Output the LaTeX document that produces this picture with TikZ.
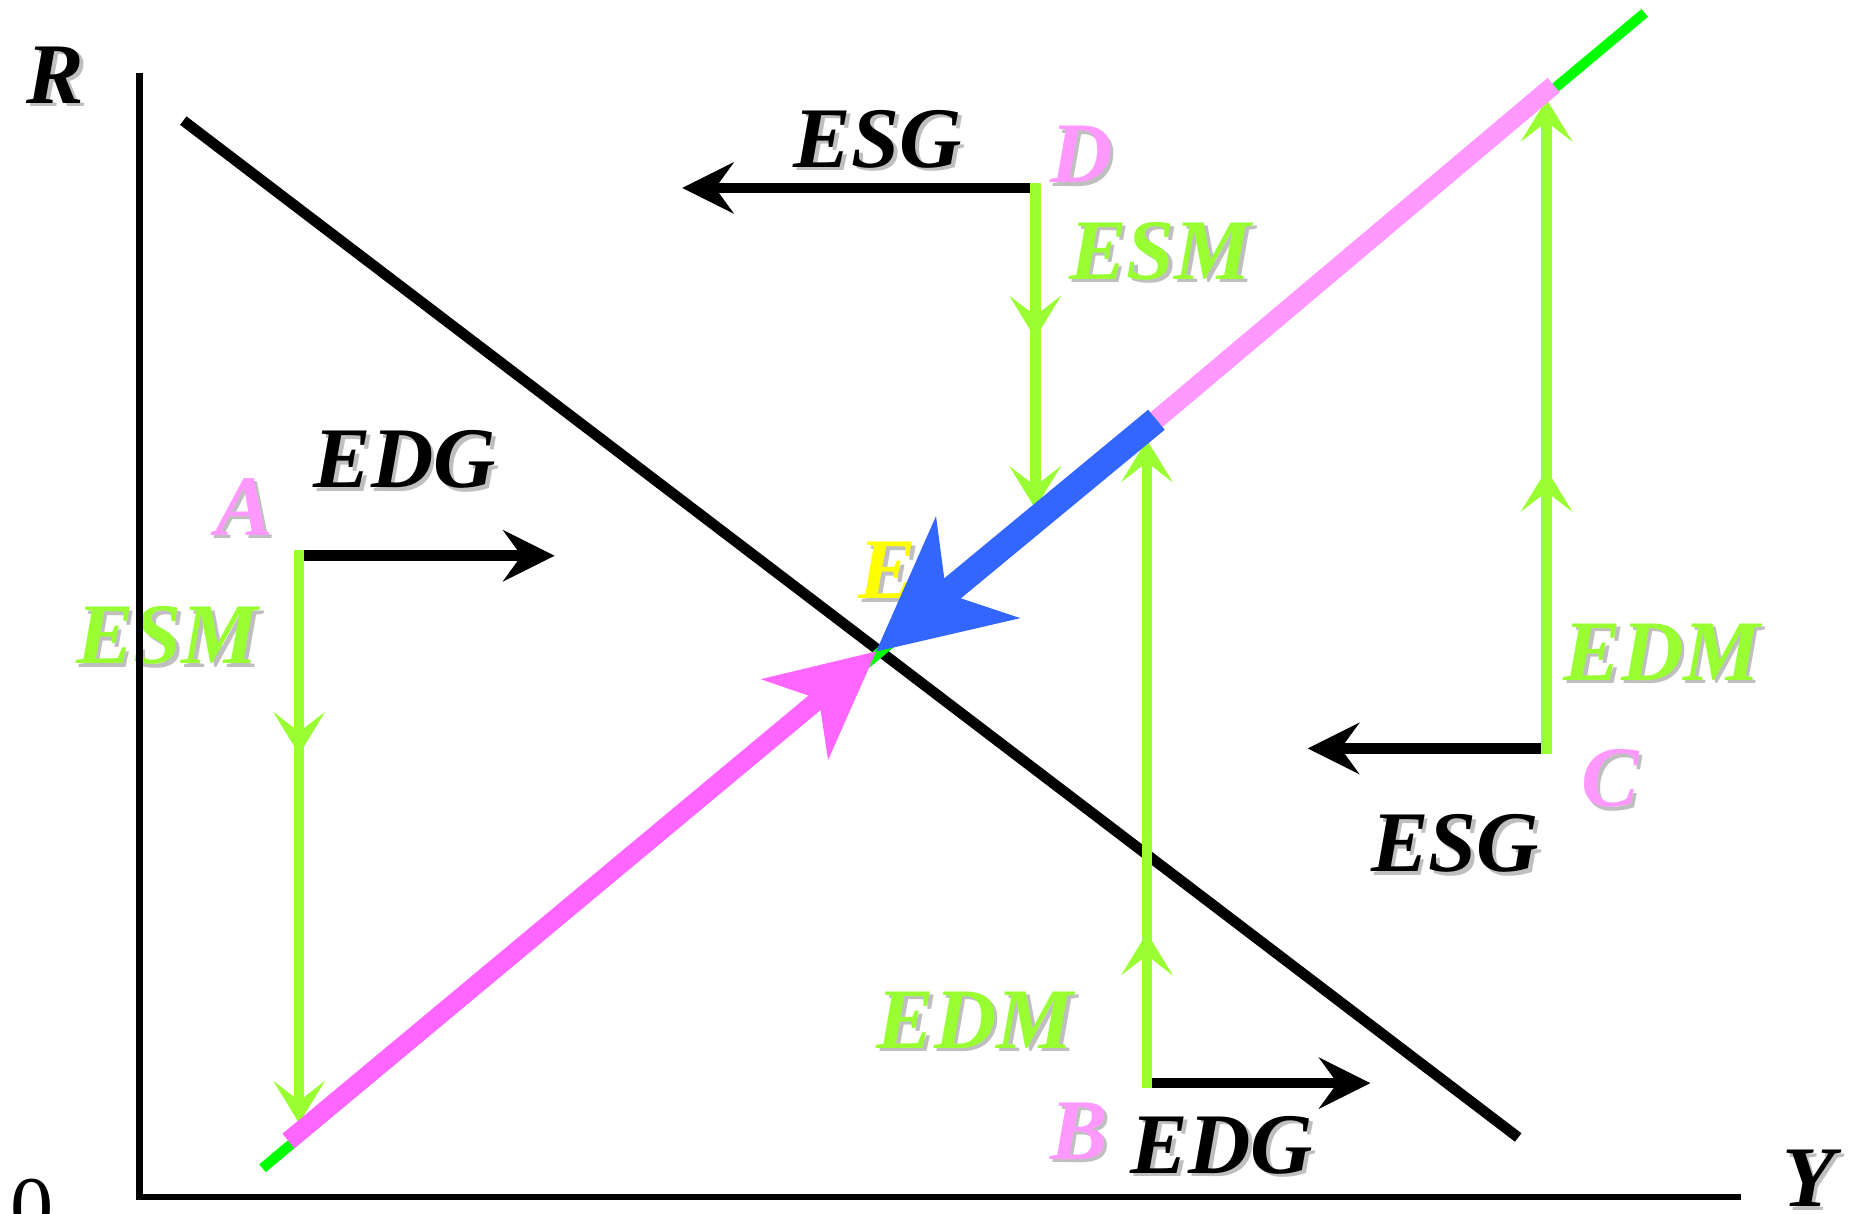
\documentclass[tikz,border=0pt]{standalone}
\usepackage{fontspec}
\setmainfont{Liberation Serif}
\usetikzlibrary{arrows.meta}
\definecolor{lgreen}{HTML}{99FF33}
\definecolor{lmgreen}{HTML}{00FF00}
\definecolor{lpink}{HTML}{FF99FF}
\definecolor{magpink}{HTML}{FF66FF}
\definecolor{bluearr}{HTML}{3366FF}
\definecolor{yell}{HTML}{FFFF00}
\definecolor{shadowgray}{HTML}{BFBFBF}
\newcommand\shlab[4]{%
  \node[lab, text=shadowgray, xshift=1.5pt, yshift=-1.5pt] (#1-s) at (#2) {#4};
  \node[lab, text=#3] (#1) at (#2) {#4};}
\begin{document}
\begin{tikzpicture}[x=0.5pt,y=-0.5pt,
  lab/.style={inner sep=0pt, font=\fontsize{36.5}{40}\selectfont\bfseries\itshape},
  axisline/.style={line width=2.6pt, black},
  isline/.style={line width=4.5pt, black},
  lmline/.style={line width=4.3pt, lmgreen},
  blarrow/.style={line width=4.5pt, black, -{Stealth[length=22pt,width=22pt,inset=8pt,line width=0pt]}},
  grarrow/.style={line width=4.5pt, lgreen, -{Stealth[length=18pt,width=22pt,inset=8.5pt,line width=0pt]}},
  magarrow/.style={line width=8pt, magpink, -{Stealth[length=45pt,width=44.5pt,inset=13.5pt,line width=0pt]}},
  pinkline/.style={line width=8pt, lpink},
  bluearrow/.style={line width=11pt, bluearr, -{Stealth[length=56pt,width=56pt,inset=17.5pt,line width=0pt]}}]
\useasboundingbox (0,0) rectangle (1568,1026);
\clip (0,0) rectangle (1568,1026);
% labels
\shlab{lR}{47,63.5}{black}{R}
\shlab{lY}{1529.5,996.5}{black}{Y}
\shlab{lESGd}{742.5,117.5}{black}{ESG}
\shlab{lD}{914.5,130.5}{lpink}{D}
\shlab{lESMd}{981.5,212.5}{lgreen}{ESM}
\shlab{lEDGa}{342.5,388.5}{black}{EDG}
\shlab{lA}{206.5,428.5}{lpink}{A}
\shlab{lESMa}{141.5,537.5}{lgreen}{ESM}
\shlab{lE}{750.5,482.5}{yell}{E}
\shlab{lEDMc}{1405.5,551.5}{lgreen}{EDM}
\shlab{lC}{1361.5,658.5}{lpink}{C}
\shlab{lESGc}{1230.5,713.5}{black}{ESG}
\shlab{lEDMb}{824.5,862.5}{lgreen}{EDM}
\shlab{lB}{912.5,956.5}{lpink}{B}
\shlab{lEDGb}{1033.5,968.5}{black}{EDG}
\node[inner sep=0pt, font=\fontsize{36.5}{40}\selectfont] (zero) at (27.5,1022) {0};
% coordinates
\coordinate (O) at (118,1012);
\coordinate (Rtop) at (118,62);
\coordinate (Yend) at (1472,1012);
\coordinate (IS1) at (155,102);
\coordinate (IS2) at (1284,962);
\coordinate (LM1) at (222,988);
\coordinate (LM2) at (1391,11);
\coordinate (Pstart) at (244,965);
\coordinate (Eq) at (741,551);
\coordinate (J) at (978,355);
\coordinate (Ptop) at (1314,72);
\coordinate (Ac) at (253,470);
\coordinate (Am) at (253,638);
\coordinate (Ae) at (253,950);
\coordinate (Ax) at (469,470);
\coordinate (Dc) at (875.5,159);
\coordinate (Dm) at (875.5,286);
\coordinate (De) at (875.5,430);
\coordinate (Dx) at (577,159);
\coordinate (Bc) at (970,916);
\coordinate (Bm) at (970,789);
\coordinate (Be) at (970,372);
\coordinate (Bx) at (1159,916);
\coordinate (Cc) at (1308,633);
\coordinate (Cm) at (1308,397);
\coordinate (Ce) at (1308,84);
\coordinate (Cx) at (1106,633);
% axes
\draw[axisline] (Rtop) -- (O) -- (Yend);
% IS and LM curves
\draw[isline] (IS1) -- (IS2);
\draw[lmline] (LM1) -- (LM2);
% black arrows
\draw[blarrow] (Ac) -- (Ax);
\draw[blarrow] (Dc) -- (Dx);
\draw[blarrow] (Cc) -- (Cx);
\draw[blarrow] (Bc) -- (Bx);
% green arrows
\draw[grarrow, shorten <=-2.25pt] (Ac) -- (Am);
\draw[grarrow, shorten <=-2.25pt] (Ac) -- (Ae);
\draw[grarrow, shorten <=-2.25pt] (Dc) -- (Dm);
\draw[grarrow, shorten <=-2.25pt] (Dc) -- (De);
\draw[grarrow, shorten <=-2.25pt] (Bc) -- (Bm);
\draw[grarrow, shorten <=-2.25pt] (Bc) -- (Be);
\draw[grarrow, shorten <=-2.25pt] (Cc) -- (Cm);
\draw[grarrow, shorten <=-2.25pt] (Cc) -- (Ce);
% thick paths
\draw[magarrow] (Pstart) -- (Eq);
\draw[pinkline] (J) -- (Ptop);
\draw[bluearrow] (J) -- (Eq);
\end{tikzpicture}
\end{document}
